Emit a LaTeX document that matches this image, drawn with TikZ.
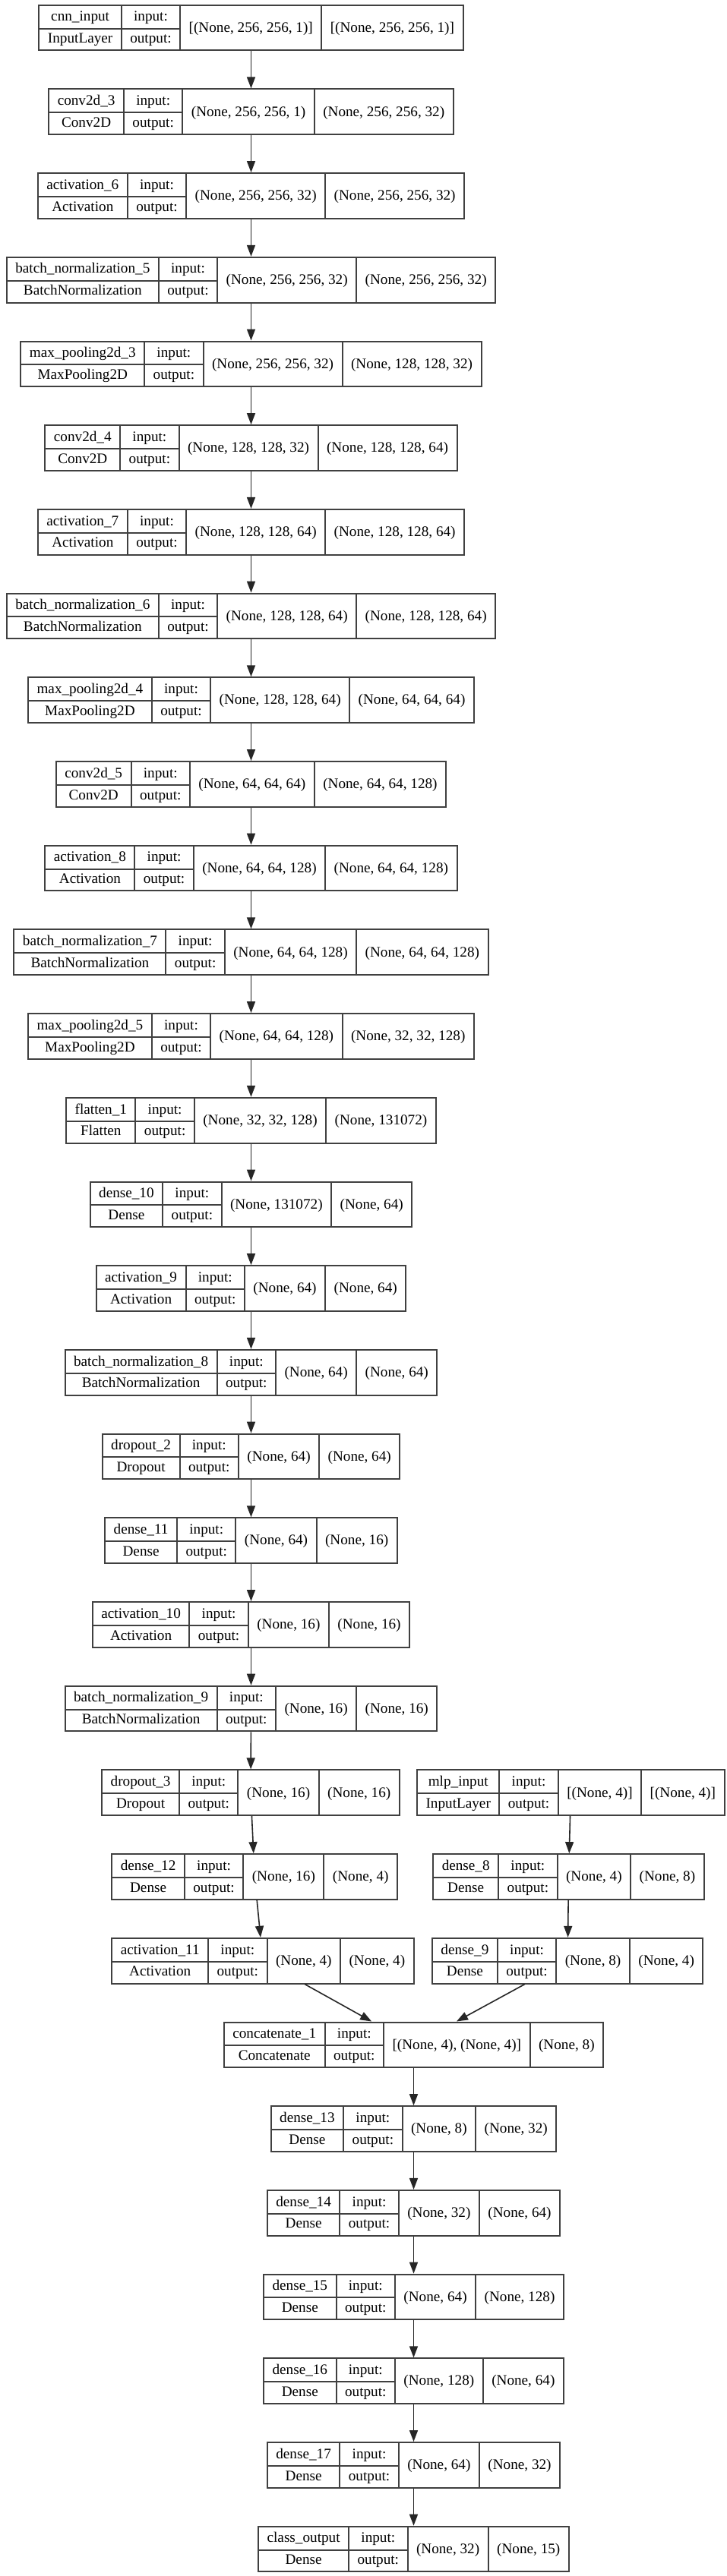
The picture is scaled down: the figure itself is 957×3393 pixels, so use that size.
\documentclass[tikz,border=0pt]{standalone}
\usepackage{fontspec}
\setmainfont{Liberation Serif}
\usepackage{multirow}
\usepackage{colortbl}
\usetikzlibrary{arrows.meta}

\setlength\tabcolsep{10.5pt}
\setlength\arrayrulewidth{2pt}
\arrayrulecolor{black!75}

% one keras layer: name, type, input shape, output shape
\newcommand\kerasbox[4]{%
  \begin{tabular}{|c|c|c|c|}\hline
    #1 & input: & \multirow{2}{*}{#3} & \multirow{2}{*}{#4}\\ \cline{1-2}
    #2 & output: & & \\ \hline
  \end{tabular}}

\tikzset{
  kbox/.style={inner sep=0pt, outer sep=0pt, font=\fontsize{19.2}{28.85}\selectfont},
  edge/.style={-{Triangle[length=15pt,width=11pt]}, line width=1.6pt, black!85}
}

\begin{document}
\begin{tikzpicture}[x=1pt, y=-1pt]
      \fill[white] (0,0) rectangle (957,3393);
      \useasboundingbox (0,0) rectangle (957,3393);
      % main column
      \node[kbox] (cnninput) at (330.5,36.55) {\kerasbox{cnn\_input}{InputLayer}{[(None, 256, 256, 1)]}{[(None, 256, 256, 1)]}};
      \node[kbox] (conv3) at (330.5,147.25) {\kerasbox{conv2d\_3}{Conv2D}{(None, 256, 256, 1)}{(None, 256, 256, 32)}};
      \node[kbox] (act6) at (330.5,257.95) {\kerasbox{activation\_6}{Activation}{(None, 256, 256, 32)}{(None, 256, 256, 32)}};
      \node[kbox] (bn5) at (330.5,368.65) {\kerasbox{batch\_normalization\_5}{BatchNormalization}{(None, 256, 256, 32)}{(None, 256, 256, 32)}};
      \node[kbox] (pool3) at (330.5,479.35) {\kerasbox{max\_pooling2d\_3}{MaxPooling2D}{(None, 256, 256, 32)}{(None, 128, 128, 32)}};
      \node[kbox] (conv4) at (330.5,590.05) {\kerasbox{conv2d\_4}{Conv2D}{(None, 128, 128, 32)}{(None, 128, 128, 64)}};
      \node[kbox] (act7) at (330.5,700.75) {\kerasbox{activation\_7}{Activation}{(None, 128, 128, 64)}{(None, 128, 128, 64)}};
      \node[kbox] (bn6) at (330.5,811.45) {\kerasbox{batch\_normalization\_6}{BatchNormalization}{(None, 128, 128, 64)}{(None, 128, 128, 64)}};
      \node[kbox] (pool4) at (330.5,922.15) {\kerasbox{max\_pooling2d\_4}{MaxPooling2D}{(None, 128, 128, 64)}{(None, 64, 64, 64)}};
      \node[kbox] (conv5) at (330.5,1032.85) {\kerasbox{conv2d\_5}{Conv2D}{(None, 64, 64, 64)}{(None, 64, 64, 128)}};
      \node[kbox] (act8) at (330.5,1143.55) {\kerasbox{activation\_8}{Activation}{(None, 64, 64, 128)}{(None, 64, 64, 128)}};
      \node[kbox] (bn7) at (330.5,1254.25) {\kerasbox{batch\_normalization\_7}{BatchNormalization}{(None, 64, 64, 128)}{(None, 64, 64, 128)}};
      \node[kbox] (pool5) at (330.5,1364.95) {\kerasbox{max\_pooling2d\_5}{MaxPooling2D}{(None, 64, 64, 128)}{(None, 32, 32, 128)}};
      \node[kbox] (flat1) at (330.5,1475.65) {\kerasbox{flatten\_1}{Flatten}{(None, 32, 32, 128)}{(None, 131072)}};
      \node[kbox] (dense10) at (330.5,1586.35) {\kerasbox{dense\_10}{Dense}{(None, 131072)}{(None, 64)}};
      \node[kbox] (act9) at (330.5,1697.05) {\kerasbox{activation\_9}{Activation}{(None, 64)}{(None, 64)}};
      \node[kbox] (bn8) at (330.5,1807.75) {\kerasbox{batch\_normalization\_8}{BatchNormalization}{(None, 64)}{(None, 64)}};
      \node[kbox] (drop2) at (330.5,1918.45) {\kerasbox{dropout\_2}{Dropout}{(None, 64)}{(None, 64)}};
      \node[kbox] (dense11) at (330.5,2029.15) {\kerasbox{dense\_11}{Dense}{(None, 64)}{(None, 16)}};
      \node[kbox] (act10) at (330.5,2139.85) {\kerasbox{activation\_10}{Activation}{(None, 16)}{(None, 16)}};
      \node[kbox] (bn9) at (330.5,2250.55) {\kerasbox{batch\_normalization\_9}{BatchNormalization}{(None, 16)}{(None, 16)}};
      \node[kbox] (drop3) at (330,2361.25) {\kerasbox{dropout\_3}{Dropout}{(None, 16)}{(None, 16)}};
      \node[kbox] (dense12) at (335.2,2471.95) {\kerasbox{dense\_12}{Dense}{(None, 16)}{(None, 4)}};
      \node[kbox] (act11) at (346,2582.65) {\kerasbox{activation\_11}{Activation}{(None, 4)}{(None, 4)}};
      % mlp branch
      \node[kbox] (mlpinput) at (751.3,2361.25) {\kerasbox{mlp\_input}{InputLayer}{[(None, 4)]}{[(None, 4)]}};
      \node[kbox] (dense8) at (748.5,2471.95) {\kerasbox{dense\_8}{Dense}{(None, 4)}{(None, 8)}};
      \node[kbox] (dense9) at (747.2,2582.65) {\kerasbox{dense\_9}{Dense}{(None, 8)}{(None, 4)}};
      % head
      \node[kbox] (concat1) at (544.5,2693.35) {\kerasbox{concatenate\_1}{Concatenate}{[(None, 4), (None, 4)]}{(None, 8)}};
      \node[kbox] (dense13) at (544.5,2804.05) {\kerasbox{dense\_13}{Dense}{(None, 8)}{(None, 32)}};
      \node[kbox] (dense14) at (544.5,2914.75) {\kerasbox{dense\_14}{Dense}{(None, 32)}{(None, 64)}};
      \node[kbox] (dense15) at (544.5,3025.45) {\kerasbox{dense\_15}{Dense}{(None, 64)}{(None, 128)}};
      \node[kbox] (dense16) at (544.5,3136.15) {\kerasbox{dense\_16}{Dense}{(None, 128)}{(None, 64)}};
      \node[kbox] (dense17) at (544.5,3246.85) {\kerasbox{dense\_17}{Dense}{(None, 64)}{(None, 32)}};
      \node[kbox] (classout) at (544.5,3357.55) {\kerasbox{class\_output}{Dense}{(None, 32)}{(None, 15)}};
      \begin{scope}[edge]
        \draw (cnninput) to (conv3);
        \draw (conv3) to (act6);
        \draw (act6) to (bn5);
        \draw (bn5) to (pool3);
        \draw (pool3) to (conv4);
        \draw (conv4) to (act7);
        \draw (act7) to (bn6);
        \draw (bn6) to (pool4);
        \draw (pool4) to (conv5);
        \draw (conv5) to (act8);
        \draw (act8) to (bn7);
        \draw (bn7) to (pool5);
        \draw (pool5) to (flat1);
        \draw (flat1) to (dense10);
        \draw (dense10) to (act9);
        \draw (act9) to (bn8);
        \draw (bn8) to (drop2);
        \draw (drop2) to (dense11);
        \draw (dense11) to (act10);
        \draw (act10) to (bn9);
        \draw (bn9) to (drop3);
        \draw (drop3) to (dense12);
        \draw (dense12) to (act11);
        \draw (mlpinput) to (dense8);
        \draw (dense8) to (dense9);
        \draw (act11) to (concat1);
        \draw (dense9) to (concat1);
        \draw (concat1) to (dense13);
        \draw (dense13) to (dense14);
        \draw (dense14) to (dense15);
        \draw (dense15) to (dense16);
        \draw (dense16) to (dense17);
        \draw (dense17) to (classout);
      \end{scope}
    \end{tikzpicture}
\end{document}
